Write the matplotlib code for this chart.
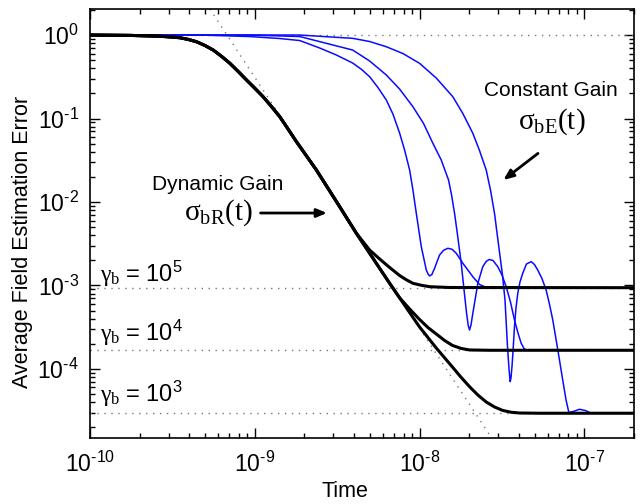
import numpy as np
import matplotlib
matplotlib.use("Agg")
import matplotlib.pyplot as plt
from matplotlib.ticker import FuncFormatter

# values (log-log axes)
# dynamic gain, part shared by all three gammas
t_dyn = [1e-10, 1.75e-10, 2.65e-10, 3.055e-10, 3.51e-10, 3.943e-10, 4.43e-10, 4.977e-10,
         5.59e-10, 6.283e-10, 7.06e-10, 7.924e-10, 8.91e-10, 1e-9, 1.123e-9, 1.262e-9,
         1.418e-9, 1.591e-9, 1.789e-9, 2.365e-9, 3.273e-9, 4.134e-9]
y_dyn = [1.0, 0.99, 0.967, 0.949, 0.928, 0.886, 0.831, 0.7505,
         0.661, 0.5558, 0.458, 0.3665, 0.289, 0.2306, 0.1824, 0.1392,
         0.105, 0.0749, 0.0528, 0.02416, 0.00879, 0.004218]

# gamma_b = 1e5 tail
t_dyn5 = [4.977e-9, 5.72e-9, 6.58e-9, 7.56e-9, 8.307e-9, 9.11e-9, 1.024e-8, 1.15e-8, 1.519e-8, 2e-7]
y_dyn5 = [0.00266, 0.002077, 0.001643, 0.001318, 0.00117, 0.001062, 1.006e-3, 9.67e-4, 9.46e-4, 9.41e-4]

# shared by 1e4 and 1e3 before they split
t_dyn_lo = [4.977e-9, 5.72e-9, 6.58e-9, 7.56e-9]
y_dyn_lo = [0.00243, 0.001607, 0.001062, 7.12e-4]

t_dyn4 = [8.7e-9, 1.0e-8, 1.123e-8, 1.262e-8, 1.418e-8, 1.585e-8, 1.789e-8, 2.009e-8, 2.655e-8, 2e-7]
y_dyn4 = [5.23e-4, 3.915e-4, 3.14e-4, 2.625e-4, 2.194e-4, 1.912e-4, 1.76e-4, 1.689e-4, 1.675e-4, 1.675e-4]

t_dyn3 = [8.7e-9, 1.0e-8, 1.262e-8, 1.591e-8, 1.789e-8, 2.009e-8, 2.256e-8, 2.536e-8, 2.848e-8,
          3.198e-8, 3.596e-8, 4.036e-8, 5.34e-8, 2e-7]
y_dyn3 = [4.74e-4, 3.18e-4, 1.784e-4, 1.042e-4, 7.91e-5, 6.14e-5, 4.88e-5, 4.025e-5, 3.506e-5,
          3.184e-5, 3.03e-5, 2.97e-5, 2.95e-5, 2.95e-5]

# constant gain curves
t_cA = [1e-10, 4.64e-10, 9.33e-10, 1.418e-9, 1.874e-9, 2.477e-9, 3.126e-9, 3.926e-9, 4.451e-9,
        4.977e-9, 5.59e-9, 6.283e-9, 6.888e-9, 7.56e-9, 8.11e-9, 8.7e-9, 9.11e-9, 9.55e-9,
        1.024e-8, 1.098e-8, 1.126e-8, 1.15e-8, 1.187e-8, 1.233e-8, 1.322e-8, 1.398e-8,
        1.484e-8, 1.574e-8, 1.669e-8, 1.83e-8, 2.104e-8, 2.31e-8, 2.547e-8, 4e-8]
y_cA = [1.0, 1.0, 0.959, 0.908, 0.859, 0.699, 0.576, 0.462, 0.3862,
        0.3166, 0.235, 0.1665, 0.1132, 0.0671, 0.04196, 0.02416, 0.01392, 0.00732,
        0.002915, 0.001533, 0.001373, 0.0013, 0.001354, 0.001607, 0.002319, 0.00264,
        0.00279, 0.002714, 0.00243, 0.001845, 0.001274, 0.001028, 9.46e-4, 9.41e-4]

t_cB = [1e-10, 9.33e-10, 1.874e-9, 3.926e-9, 4.977e-9, 6.283e-9, 7.56e-9, 9.11e-9, 1.057e-8,
        1.204e-8, 1.353e-8, 1.499e-8, 1.563e-8, 1.63e-8, 1.699e-8, 1.789e-8, 1.861e-8,
        1.927e-8, 1.973e-8, 2.009e-8, 2.051e-8, 2.104e-8, 2.256e-8, 2.418e-8, 2.529e-8,
        2.637e-8, 2.789e-8, 2.981e-8, 3.162e-8, 3.353e-8, 3.56e-8, 3.765e-8, 3.954e-8,
        4.134e-8, 4.3e-8, 4.45e-8, 6e-8]
y_cB = [1.0, 1.0, 0.959, 0.661, 0.4884, 0.3319, 0.2256, 0.1384, 0.0871,
        0.0505, 0.03184, 0.01834, 0.01213, 0.00732, 0.004025, 0.001845, 8.83e-4,
        4.687e-4, 3.319e-4, 2.932e-4, 3.364e-4, 4.645e-4, 0.001062, 0.00168, 0.001928,
        0.002048, 0.001993, 0.00168, 0.001335, 9.67e-4, 6.345e-4, 3.862e-4, 2.698e-4,
        2.031e-4, 1.76e-4, 1.675e-4, 1.675e-4]

t_cC = [1e-10, 1.874e-9, 3.926e-9, 4.977e-9, 6.283e-9, 7.924e-9, 1.0e-8, 1.262e-8, 1.591e-8,
        1.83e-8, 2.104e-8, 2.31e-8, 2.536e-8, 2.693e-8, 2.848e-8, 3.024e-8, 3.184e-8,
        3.298e-8, 3.415e-8, 3.491e-8, 3.546e-8, 3.585e-8, 3.636e-8, 3.687e-8, 3.765e-8,
        3.844e-8, 3.943e-8, 4.065e-8, 4.227e-8, 4.45e-8, 4.753e-8, 4.977e-8, 5.21e-8,
        5.526e-8, 5.86e-8, 6.136e-8, 6.43e-8, 6.74e-8, 7.06e-8, 7.387e-8, 7.74e-8, 8.05e-8,
        8.58e-8, 9.33e-8, 1.014e-7, 1.102e-7, 1.5e-7]
y_cC = [1.0, 1.0, 0.913, 0.836, 0.724, 0.6004, 0.458, 0.3055, 0.1824,
        0.1148, 0.0665, 0.04137, 0.02416, 0.01392, 0.00732, 0.002915, 0.001335,
        6.7e-4, 1.85e-4, 9.73e-5, 7.05e-5, 7.8e-5, 1.065e-4, 1.598e-4, 3.21e-4,
        5.377e-4, 8.06e-4, 0.001101, 0.0014, 0.001809, 0.001928, 0.001784, 0.001533,
        0.001213, 8.83e-4, 6.0e-4, 3.862e-4, 2.225e-4, 1.282e-4, 7.38e-5, 4.25e-5, 3.013e-5,
        3.1e-5, 3.29e-5, 3.18e-5, 2.95e-5, 2.95e-5]

# t^-3 asymptote and the floor levels
t_asym = [5.34e-10, 2.66e-8]
y_asym = [2.05, 1.62e-5]
levels = [1.0, 9.41e-4, 1.675e-4, 2.95e-5]
gamma_exp = ['5', '4', '3']
x_major = [1e-10, 1e-9, 1e-8, 1e-7]
y_major = [1e0, 1e-1, 1e-2, 1e-3, 1e-4]

plt.rcParams['font.family'] = ['Liberation Sans', 'DejaVu Sans']
plt.rcParams['axes.unicode_minus'] = False
plt.rcParams['mathtext.fontset'] = 'custom'
plt.rcParams['mathtext.rm'] = 'Liberation Serif'
plt.rcParams['mathtext.it'] = 'Liberation Serif:italic'
plt.rcParams['mathtext.sf'] = 'Liberation Sans'

fig = plt.figure(figsize=(6.41, 5.04), dpi=100)
ax = fig.add_axes([90 / 641, 1 - 438 / 504, 544 / 641, 429 / 504])
ax.set_xscale('log')
ax.set_yscale('log')

dot = dict(color='#777777', lw=1.0, ls=(0, (1, 4)))
for lv in levels:
    ax.plot([1e-10, 2e-7], [lv, lv], **dot)
ax.plot(t_asym, y_asym, **dot)

blue = dict(color='#0a0aff', lw=1.1)
ax.plot(t_cA, y_cA, **blue)
ax.plot(t_cB, y_cB, **blue)
ax.plot(t_cC, y_cC, **blue)

blk = dict(color='black', lw=2.2, solid_joinstyle='round', solid_capstyle='round')
ax.plot(t_dyn + t_dyn5, y_dyn + y_dyn5, **blk)
ax.plot(t_dyn + t_dyn_lo + t_dyn4, y_dyn + y_dyn_lo + y_dyn4, **blk)
ax.plot(t_dyn + t_dyn_lo + t_dyn3, y_dyn + y_dyn_lo + y_dyn3, **blk)


def pow10(v, pos):
    e = int(round(np.log10(v)))
    s = str(e).replace('-', '\u2010')
    return r'$\mathdefault{10^{%s}}$' % s


ax.set_xticks(x_major)
ax.set_yticks(y_major)
ax.set_xlim(1e-10, 2e-7)
ax.set_ylim(1.49e-5, 2.05)
ax.xaxis.set_major_formatter(FuncFormatter(pow10))
ax.yaxis.set_major_formatter(FuncFormatter(pow10))
ax.tick_params(which='both', direction='in', top=True, right=True, labelsize=16.5, width=1)
ax.tick_params(which='major', length=7)
ax.tick_params(axis='x', which='major', pad=10)
ax.tick_params(axis='y', which='major', pad=8)
ax.tick_params(which='minor', length=3.5)
for s in ax.spines.values():
    s.set_linewidth(1.2)

# annotations
fig.text(218 / 641, 1 - 184 / 504, 'Dynamic Gain', fontsize=15, ha='center', va='center')
fig.text(218 / 641, 1 - 220 / 504, r'$\mathrm{\sigma_{bR}(t)}$', fontsize=21, ha='center', va='baseline')
fig.text(551 / 641, 1 - 90 / 504, 'Constant Gain', fontsize=15, ha='center', va='center')
fig.text(552 / 641, 1 - 129 / 504, r'$\mathrm{\sigma_{bE}(t)}$', fontsize=21, ha='center', va='baseline')

arr = dict(arrowstyle='-|>,head_length=0.6,head_width=0.25', color='black', lw=2)
ax.annotate('', xy=(2.85e-9, 0.00738), xytext=(1.043e-9, 0.00738), arrowprops=arr)
ax.annotate('', xy=(3.126e-8, 0.0175), xytext=(5.39e-8, 0.04003), arrowprops=arr)

for ypx, e in zip([282, 341, 402], gamma_exp):
    fig.text(100 / 641, 1 - ypx / 504, r'$\mathrm{\gamma_b}\mathsf{\,=\,10^{%s}}$' % e,
             fontsize=17, ha='left', va='baseline')

fig.text(23 / 641, 1 - 242 / 504, 'Average Field Estimation Error', fontsize=15.5,
         rotation=90, ha='center', va='center')
fig.text(345 / 641, 1 - 497 / 504, 'Time', fontsize=15.5, ha='center', va='baseline')

fig.savefig('out.png', dpi=100)
